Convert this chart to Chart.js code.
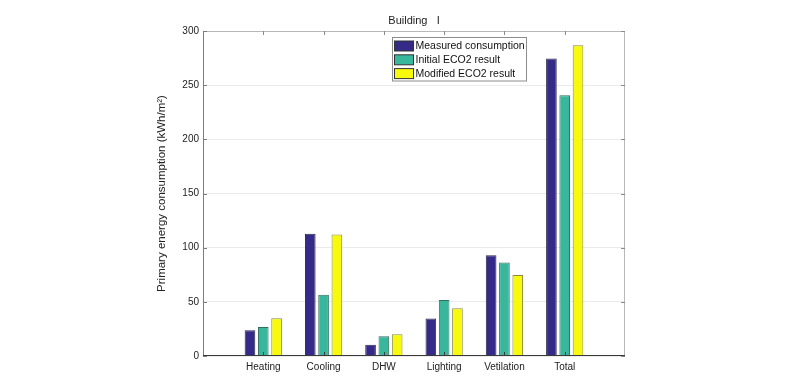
<!DOCTYPE html>
<html><head><meta charset="utf-8">
<script src="https://cdn.jsdelivr.net/npm/chart.js@4/dist/chart.umd.min.js"></script>
<style>html,body{margin:0;padding:0;background:#fff;}</style>
</head><body>
<canvas id="c" width="800" height="378"></canvas>
<script>
const categories = ['Heating', 'Cooling', 'DHW', 'Lighting', 'Vetilation', 'Total'];
const measured = [23.7, 112.8, 10.4, 34.7, 92.9, 274.6];
const initialEco2 = [26.7, 56.5, 18.2, 51.6, 86.4, 240.7];
const modifiedEco2 = [34.8, 112.2, 20.0, 44.0, 74.7, 286.8];
const seriesNames = ['Measured consumption', 'Initial ECO2 result', 'Modified ECO2 result'];
const seriesColors = ['#352a87', '#38b79c', '#f8fa0d'];
const seriesBorders = ['#2a2a4a', '#2f6f60', '#8a8a40'];
const yMin = 0, yMax = 300, yStep = 50;
const titleText = 'Building   I';
const yTitle = 'Primary energy consumption (kWh/m\u00B2)';

const FONT = "'Liberation Sans', Arial, sans-serif";
// pad the category axis with an empty slot on each side (axis runs 0..7)
const labels = [''].concat(categories, ['']);
const pad = arr => [null].concat(arr, [null]);
const seriesData = [measured, initialEco2, modifiedEco2];

const framePlugin = {
  id: 'frame',
  afterDraw(chart) {
    const {ctx, chartArea: {left, right, top, bottom}, scales: {x, y}} = chart;
    ctx.save();
    ctx.lineWidth = 1;
    const line = (x1, y1, x2, y2, c) => { ctx.strokeStyle = c; ctx.beginPath(); ctx.moveTo(x1, y1); ctx.lineTo(x2, y2); ctx.stroke(); };
    // frame
    line(left, top + 0.5, right, top + 0.5, '#b8b8b8');
    line(right - 0.5, top, right - 0.5, bottom, '#b8b8b8');
    line(left + 0.5, top, left + 0.5, bottom, '#7c7c7c');
    line(left, bottom - 0.5, right, bottom - 0.5, '#3a3a3a');
    // category tick marks (top and bottom)
    for (let i = 1; i <= categories.length; i++) {
      const px = Math.round(x.getPixelForValue(i)) + 0.5;
      line(px, top, px, top + 4, '#8a8a8a');
      line(px, bottom - 4, px, bottom, '#3a3a3a');
    }
    // value tick marks (left and right)
    for (let v = yMin; v <= yMax; v += yStep) {
      const py = Math.round(y.getPixelForValue(v)) + 0.5;
      line(left, py, left + 4, py, '#7c7c7c');
      line(right - 4, py, right, py, '#8a8a8a');
    }
    // title
    ctx.fillStyle = '#222';
    ctx.font = '11px ' + FONT;
    ctx.textAlign = 'center';
    ctx.textBaseline = 'middle';
    ctx.fillText(titleText, (left + right) / 2, top - 10);
    // legend
    const lx = left + 189.5, ly = top + 6.5, lw = 134, lh = 43.5;
    ctx.fillStyle = '#fff';
    ctx.fillRect(lx, ly, lw, lh);
    ctx.strokeStyle = '#8c8c8c';
    ctx.strokeRect(lx, ly, lw, lh);
    ctx.font = '10.5px ' + FONT;
    ctx.textAlign = 'left';
    chart.data.datasets.forEach((ds, i) => {
      const sy = ly + 3.5 + i * 13.8;
      ctx.fillStyle = ds.backgroundColor;
      ctx.fillRect(lx + 2, sy, 19, 10);
      ctx.strokeStyle = '#333';
      ctx.strokeRect(lx + 2, sy, 19, 10);
      ctx.fillStyle = '#111';
      ctx.fillText(ds.label, lx + 23, sy + 5.5);
    });
    ctx.restore();
  }
};

new Chart(document.getElementById('c'), {
  type: 'bar',
  data: {
    labels: labels,
    datasets: seriesData.map((d, i) => ({
      label: seriesNames[i],
      data: pad(d),
      backgroundColor: seriesColors[i],
      borderColor: seriesBorders[i],
      borderWidth: 1,
      categoryPercentage: 0.662,
      barPercentage: 0.8
    }))
  },
  options: {
    responsive: false,
    animation: false,
    layout: {padding: {top: 31, right: 175, bottom: 0, left: 151}},
    plugins: {legend: {display: false}, title: {display: false}, tooltip: {enabled: false}},
    scales: {
      x: {
        offset: false,
        grid: {display: false, drawTicks: false},
        border: {display: false},
        ticks: {color: '#222', font: {family: FONT, size: 10}, padding: 5, autoSkip: false, maxRotation: 0},
        afterFit(s) { s.height = 22; }
      },
      y: {
        min: yMin, max: yMax,
        grid: {color: '#ebebeb', drawTicks: false},
        border: {display: false},
        ticks: {stepSize: yStep, color: '#222', font: {family: FONT, size: 10}, padding: 4},
        title: {display: true, text: yTitle, color: '#222', font: {family: FONT, size: 11.5}, padding: {top: 4, bottom: 0}},
        afterFit(s) { s.width = 52; }
      }
    }
  },
  plugins: [framePlugin]
});
</script>
</body></html>
